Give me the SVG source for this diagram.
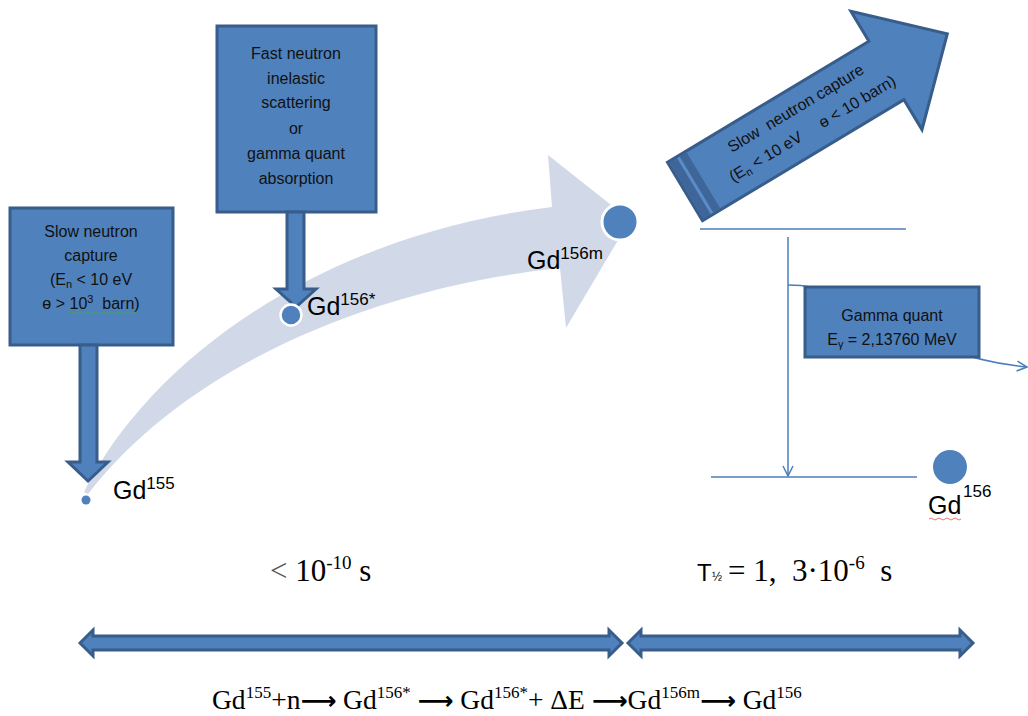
<svg xmlns="http://www.w3.org/2000/svg" width="1028" height="716" viewBox="0 0 1028 716">
<defs>
<style>
.box{fill:#4F81BD;stroke:#385D8A;stroke-width:3}
.bt{font-family:"Liberation Sans",Arial,sans-serif;font-size:16px;fill:#111;text-anchor:middle}
.lbl{font-family:"Liberation Sans",Arial,sans-serif;fill:#000}
.ser{font-family:"Liberation Serif","DejaVu Serif",serif;fill:#000}
.arr{font-family:"DejaVu Sans",sans-serif;font-weight:bold}
.dot{fill:#4F81BD}
.ln{stroke:#4A7EBB;stroke-width:1.5;fill:none}
.dark{fill:#3E6699}
</style>
<marker id="open" viewBox="0 0 12 12" refX="11" refY="6" markerWidth="12" markerHeight="12" markerUnits="userSpaceOnUse" orient="auto">
<path d="M1,1 L11,6 L1,11" fill="none" stroke="#4A7EBB" stroke-width="1.5"/>
</marker>
</defs>
<rect width="1028" height="716" fill="#fff"/>

<g id="process-arrow">
<path d="M84,492 C150,360 320,235 552,207 L548,155 L630,220 L566,328 L560,268 C380,287 190,362 88,494 Z" fill="#D1D9E8"/>
</g>

<g id="connectors">
<line class="ln" x1="700" y1="229" x2="906" y2="229"/>
<line class="ln" x1="711" y1="477" x2="917" y2="477"/>
<line class="ln" x1="788" y1="237" x2="788" y2="476" marker-end="url(#open)"/>
<path class="ln" d="M788,285 C870,285 900,355 1027,367" marker-end="url(#open)"/>
</g>

<g id="slow-capture-box">
<rect class="box" x="10" y="208" width="163" height="137"/>
<text class="bt" x="91" y="237">Slow neutron</text>
<text class="bt" x="91" y="261">capture</text>
<text class="bt" x="91" y="285">(E<tspan font-size="11" dy="3">n</tspan><tspan dy="-3"> &lt; 10 eV</tspan></text>
<text class="bt" x="91" y="309">ɵ &gt; 10<tspan font-size="11" dy="-6">3</tspan><tspan dy="6">&#160; barn)</tspan></text>
<path d="M70,313 q2,-2 4,0 t4,0 t4,0 t4,0 t4,0 t4,0 t4,0 t4,0 t4,0 t4,0 t4,0 t4,0 t4,0 t4,0 t4,0 t4,0 t4,0" fill="none" stroke="#4CA64C" stroke-width="0.8"/>
<path class="box" d="M80,345 L80,462 L68,462 L88,481 L108,462 L97,462 L97,345 Z"/>
</g>

<g id="fast-box">
<rect class="box" x="217" y="26" width="159" height="186"/>
<text class="bt" x="296" y="59">Fast neutron</text>
<text class="bt" x="296" y="84">inelastic</text>
<text class="bt" x="296" y="108">scattering</text>
<text class="bt" x="296" y="134">or</text>
<text class="bt" x="296" y="159">gamma quant</text>
<text class="bt" x="296" y="184">absorption</text>
<path class="box" d="M287,212 L287,289 L276,289 L296,307 L316,289 L304,289 L304,212 Z"/>
</g>

<g id="gd155">
<circle class="dot" cx="86" cy="500" r="4.5"/>
<text class="lbl" x="113" y="499" font-size="25">Gd<tspan font-size="17" dy="-10">155</tspan></text>
</g>

<g id="gd156star">
<circle class="dot" cx="291" cy="315" r="10.5" stroke="#fff" stroke-width="2.5"/>
<text class="lbl" x="307" y="315" font-size="25">Gd<tspan font-size="17" dy="-10">156*</tspan></text>
</g>

<g id="gd156m">
<circle class="dot" cx="620" cy="222" r="18" stroke="#fff" stroke-width="3"/>
<text class="lbl" x="527" y="269" font-size="25">Gd<tspan font-size="17" dy="-10">156m</tspan></text>
</g>

<g id="slow-capture-arrow" transform="translate(685,191.5) rotate(-31)">
<path class="box" d="M0,-34 L235,-34 L235,-69 L306,0 L235,69 L235,34 L0,34 Z"/>
<rect class="dark" x="1.5" y="-32.5" width="9" height="65"/>
<rect x="10.5" y="-32.5" width="3" height="65" fill="#5B8BC8"/>
<rect class="dark" x="13.5" y="-32.5" width="8" height="65"/>
<text x="60" y="-9" font-family="Liberation Sans,Arial,sans-serif" font-size="16" fill="#111">Slow&#160; neutron capture</text>
<text x="46" y="17" font-family="Liberation Sans,Arial,sans-serif" font-size="16" fill="#111">(E<tspan font-size="11" dy="3">n</tspan><tspan dy="-3"> &lt; 10 eV&#160;&#160;&#160;&#160; ɵ &lt; 10 barn)</tspan></text>
</g>

<g id="gamma-box">
<rect class="box" x="805" y="287" width="174" height="70"/>
<text class="bt" x="892" y="321">Gamma quant</text>
<text class="bt" x="892" y="345">E<tspan font-size="11" dy="3">γ</tspan><tspan dy="-3"> = 2,13760 MeV</tspan></text>
</g>

<g id="gd156">
<circle class="dot" cx="950" cy="467" r="17"/>
<text class="lbl" x="928" y="514" font-size="25">Gd</text>
<text class="lbl" x="963" y="497" font-size="17">156</text>
<path d="M929,519 q2,-2 4,0 t4,0 t4,0 t4,0 t4,0 t4,0 t4,0 t4,0" fill="none" stroke="#E05050" stroke-width="0.8"/>
</g>

<g id="times">
<text class="ser" x="270" y="581" font-size="31"><tspan fill="#555">&lt;</tspan> 10<tspan font-size="19" dy="-12">-10</tspan><tspan dy="12"> s</tspan></text>
<text x="697" y="581" font-family="Liberation Sans,Arial,sans-serif" font-size="24" fill="#000">T</text>
<text x="712" y="581" font-family="Liberation Sans,Arial,sans-serif" font-size="12" fill="#000">½</text>
<text class="ser" x="728" y="581" font-size="31">= 1,&#160; 3·10<tspan font-size="19" dy="-12">-6</tspan><tspan dy="12">&#160; s</tspan></text>
</g>

<g id="timescale-arrows">
<path class="box" d="M80,643 L93,630 L93,636 L609,636 L609,630 L622,643 L609,656 L609,650 L93,650 L93,656 Z"/>
<path class="box" d="M628,643 L641,630 L641,636 L960,636 L960,630 L973,643 L960,656 L960,650 L641,650 L641,656 Z"/>
</g>

<g id="equation">
<text class="ser" x="212" y="709" font-size="27.5">Gd<tspan font-size="17" dy="-11">155</tspan><tspan dy="11">+n</tspan><tspan class="arr" font-size="25">⟶</tspan><tspan> Gd</tspan><tspan font-size="17" dy="-11">156*</tspan><tspan dy="11"> </tspan><tspan class="arr" font-size="25">⟶</tspan><tspan> Gd</tspan><tspan font-size="17" dy="-11">156*</tspan><tspan dy="11">+ ΔE </tspan><tspan class="arr" font-size="25">⟶</tspan><tspan>Gd</tspan><tspan font-size="17" dy="-11">156m</tspan><tspan class="arr" font-size="25" dy="11">⟶</tspan><tspan> Gd</tspan><tspan font-size="17" dy="-11">156</tspan></text>
</g>
</svg>
